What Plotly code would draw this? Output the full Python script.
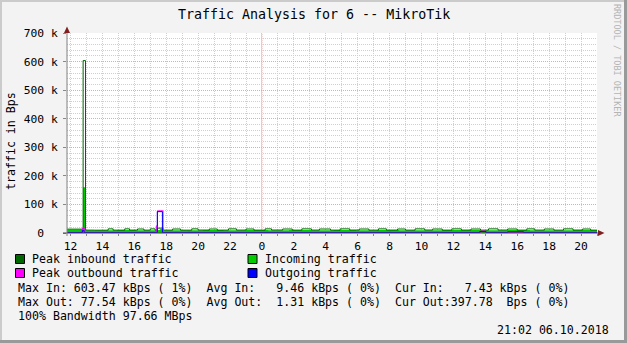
import plotly.graph_objects as go
import pandas as pd

# ---------------- data (hours after 2018-10-05 12:00, values in Bps) ----------------
T0 = pd.Timestamp("2018-10-05 12:00")
X_START_H = -0.22
X_END_H = 33.0

# Incoming traffic (average) - step series
in_h = [-0.22, 0.79, 0.94, 1.8, 2.9, 4.1, 5.45, 5.62, 5.8, 7.0, 8.3, 9.6, 11.0, 12.4,
        13.7, 15.1, 16.5, 17.9, 19.2, 20.6, 22.0, 23.3, 24.7, 26.0, 27.4, 28.8, 30.1,
        31.5, 33.0]
in_v = [12000, 160000, 10000, 9600, 10200, 9800, 10500, 14000, 10000, 9700, 10300, 9600,
        10100, 9800, 10400, 9900, 10200, 9700, 10300, 10000, 9800, 10400, 10100, 9700,
        10300, 10000, 9800, 10200, 10200]

# Peak inbound traffic
pk_in_h = [-0.22, 0.79, 0.94, 1.5, 2.36, 2.67, 3.4, 3.7, 4.2, 4.6, 5.0, 5.3, 5.45, 5.8,
           6.4, 6.9, 7.6, 8.0, 8.7, 9.2, 9.9, 10.4, 11.0, 11.5, 12.2, 12.6, 13.3, 13.9,
           14.5, 15.1, 15.6, 16.3, 16.9, 17.5, 18.1, 18.7, 19.3, 19.8, 20.5, 21.0, 21.6,
           22.2, 22.7, 23.3, 23.9, 24.5, 25.1, 25.7, 26.2, 26.8, 27.4, 28.0, 28.6, 29.1,
           29.7, 30.3, 30.9, 31.5, 32.1, 32.6, 33.0]
pk_in_v = [13500, 603470, 10000, 9800, 14500, 10000, 14500, 10200, 14000, 10000, 14500,
           10000, 17000, 10000, 14000, 9900, 14500, 10300, 14000, 10000, 14500, 10200,
           14000, 10000, 14500, 10400, 14000, 10000, 14500, 10200, 14000, 10000, 14500,
           10300, 14000, 10000, 14500, 10200, 14000, 10000, 14500, 10400, 14000, 10000,
           14500, 10200, 14000, 10000, 14500, 10300, 14000, 10000, 14500, 10200, 14000,
           10000, 14500, 10300, 14000, 10000, 10000]

# Outgoing traffic (average)
out_h = [-0.22, 0.74, 0.85, 5.44, 5.76, 25.65, 26.05, 27.4, 28.4, 33.0]
out_v = [1200, 9000, 1200, 74800, 1200, 5000, 1200, 4000, 1200, 1200]

# Peak outbound traffic
pk_out_h = [-0.22, 0.76, 0.90, 5.38, 5.45, 5.80, 7.35, 7.5, 19.95, 20.1, 25.7, 26.0, 33.0]
pk_out_v = [2000, 18000, 2000, 25000, 77540, 2000, 4000, 2000, 4000, 2000, 7000, 2000, 2000]

y_tick_vals = [0, 100000, 200000, 300000, 400000, 500000, 600000, 700000]
y_tick_text = ["0  ", "100 k", "200 k", "300 k", "400 k", "500 k", "600 k", "700 k"]

title_text = "Traffic Analysis for 6 -- MikroTik"
y_label = "traffic in Bps"
legend_items = [("Peak inbound traffic", "#006600"), ("Incoming traffic", "#00CC00"),
                ("Peak outbound traffic", "#FF00FF"), ("Outgoing traffic", "#0000FF")]
comment_lines = [
    "Max In: 603.47 kBps ( 1%)  Avg In:   9.46 kBps ( 0%)  Cur In:   7.43 kBps ( 0%)",
    "Max Out: 77.54 kBps ( 0%)  Avg Out:  1.31 kBps ( 0%)  Cur Out:397.78  Bps ( 0%)",
    "100% Bandwidth 97.66 MBps",
]
date_text = "21:02 06.10.2018"
watermark = "RRDTOOL / TOBI OETIKER"
midnight = "2018-10-06 00:00"


def to_time(hours):
    return [T0 + pd.Timedelta(hours=h) for h in hours]


def nb(s):
    return s.replace(" ", "\u00a0")


W, H = 627, 343
L, R, T, B = 67, 30, 33, 110
PW, PH = W - L - R, H - T - B


def px(x):
    return (x - L) / PW


def py(y):
    return (T + PH - y) / PH


MONO = "DejaVu Sans Mono"

fig = go.Figure()
fig.add_trace(go.Scatter(x=to_time(in_h), y=in_v, mode="lines", line_shape="hv",
                         line=dict(width=0, color="#00CC00"), fill="tozeroy",
                         fillcolor="#00CC00", hoverinfo="skip"))
fig.add_trace(go.Scatter(x=to_time(pk_in_h), y=pk_in_v, mode="lines", line_shape="hv",
                         line=dict(width=1, color="#006600"), hoverinfo="skip"))
fig.add_trace(go.Scatter(x=to_time(pk_out_h), y=pk_out_v, mode="lines", line_shape="hv",
                         line=dict(width=1, color="#FF00FF"), hoverinfo="skip"))
fig.add_trace(go.Scatter(x=to_time(out_h), y=out_v, mode="lines", line_shape="hv",
                         line=dict(width=1, color="#0000FF"), hoverinfo="skip"))

GRID = "#cfcfcf"
MGRID = "#e8a8a8"
DOT = "1px,1px"

fig.update_layout(
    width=W, height=H, margin=dict(l=L, r=R, t=T, b=B, pad=0),
    paper_bgcolor="#f3f3f3", plot_bgcolor="#ffffff", showlegend=False,
    font=dict(family=MONO, size=11.3, color="#000000"),
    xaxis=dict(type="date",
               range=[T0 + pd.Timedelta(hours=X_START_H), T0 + pd.Timedelta(hours=X_END_H)],
               tick0="2018-10-05 00:00", dtick=2 * 3600000, tickformat="%-H",
               showgrid=True, gridcolor=GRID, griddash=DOT, gridwidth=1,
               ticks="outside", ticklen=2, tickcolor="#888888",
               minor=dict(dtick=3600000, tick0="2018-10-05 00:00", showgrid=True,
                          gridcolor=GRID, griddash=DOT, ticks="outside", ticklen=2,
                          tickcolor="#888888"),
               showline=False, zeroline=False, fixedrange=True,
               tickfont=dict(family=MONO, size=11.3)),
    yaxis=dict(range=[0, 700000], tickmode="array", tickvals=y_tick_vals,
               ticktext=[nb(t) for t in y_tick_text],
               showgrid=True, gridcolor=MGRID, griddash=DOT, gridwidth=1,
               ticks="outside", ticklen=3, tickcolor="#888888", ticklabelstandoff=3,
               minor=dict(dtick=20000, tick0=0, showgrid=True, gridcolor=GRID,
                          griddash=DOT),
               showline=False, zeroline=False, fixedrange=True,
               tickfont=dict(family=MONO, size=11.3)),
)

shapes = []
# midnight major grid line
shapes.append(dict(type="line", xref="x", yref="paper", x0=midnight, x1=midnight,
                   y0=0, y1=1, layer="below", line=dict(color=MGRID, width=1, dash=DOT)))
# axes
AX = "#444444"
ARROW = "#7F1F1F"
shapes.append(dict(type="line", xref="paper", yref="paper", x0=px(63), x1=px(600),
                   y0=py(233), y1=py(233), line=dict(color=AX, width=1)))
shapes.append(dict(type="line", xref="paper", yref="paper", x0=px(67), x1=px(67),
                   y0=py(236), y1=py(30), line=dict(color="#808080", width=1)))
shapes.append(dict(type="path", xref="paper", yref="paper",
                   path=f"M {px(598)} {py(230)} L {px(604.5)} {py(233)} L {px(598)} {py(236)} Z",
                   fillcolor=ARROW, line=dict(color=ARROW, width=0)))
shapes.append(dict(type="path", xref="paper", yref="paper",
                   path=f"M {px(64)} {py(33)} L {px(67)} {py(26.5)} L {px(70)} {py(33)} Z",
                   fillcolor=ARROW, line=dict(color=ARROW, width=0)))
# 3D frame
shapes.append(dict(type="rect", xref="paper", yref="paper", x0=px(0), x1=px(2),
                   y0=py(0), y1=py(343), fillcolor="#cbcbcb", line=dict(width=0)))
shapes.append(dict(type="rect", xref="paper", yref="paper", x0=px(0), x1=px(627),
                   y0=py(0), y1=py(2), fillcolor="#cbcbcb", line=dict(width=0)))
shapes.append(dict(type="rect", xref="paper", yref="paper", x0=px(624), x1=px(627),
                   y0=py(0), y1=py(343), fillcolor="#999999", line=dict(width=0)))
shapes.append(dict(type="rect", xref="paper", yref="paper", x0=px(0), x1=px(627),
                   y0=py(340), y1=py(343), fillcolor="#999999", line=dict(width=0)))

annotations = []
annotations.append(dict(text=nb(title_text), xref="paper", yref="paper", x=px(313.5),
                        y=py(15), xanchor="center", yanchor="middle", showarrow=False,
                        font=dict(family=MONO, size=13.3)))
annotations.append(dict(text=nb(y_label), xref="paper", yref="paper", x=px(11), y=py(141),
                        xanchor="center", yanchor="middle", textangle=-90, showarrow=False,
                        font=dict(family=MONO, size=11.6)))
annotations.append(dict(text=nb(watermark), xref="paper", yref="paper", x=px(617), y=py(60),
                        xanchor="center", yanchor="middle", textangle=90, showarrow=False,
                        font=dict(family=MONO, size=8.5, color="#b4b4b4")))

legend_pos = [(15.5, 259), (248, 259), (15.5, 273), (248, 273)]
for (label, color), (lx, ly) in zip(legend_items, legend_pos):
    shapes.append(dict(type="rect", xref="paper", yref="paper", x0=px(lx), x1=px(lx + 9),
                       y0=py(ly - 4.5), y1=py(ly + 4.5), fillcolor=color,
                       line=dict(color="#000000", width=1)))
    annotations.append(dict(text=nb(label), xref="paper", yref="paper", x=px(lx + 14.5),
                            y=py(ly), xanchor="left", yanchor="middle", showarrow=False,
                            font=dict(family=MONO, size=11.6)))

for i, line in enumerate(comment_lines):
    annotations.append(dict(text=nb(line), xref="paper", yref="paper", x=px(15.5),
                            y=py(288 + 14 * i), xanchor="left", yanchor="middle",
                            showarrow=False, font=dict(family=MONO, size=11.6)))

annotations.append(dict(text=nb(date_text), xref="paper", yref="paper", x=px(611), y=py(330),
                        xanchor="right", yanchor="middle", showarrow=False,
                        font=dict(family=MONO, size=11.6)))

fig.update_layout(shapes=shapes, annotations=annotations)
fig.write_html("out.html", config={"displayModeBar": False})
